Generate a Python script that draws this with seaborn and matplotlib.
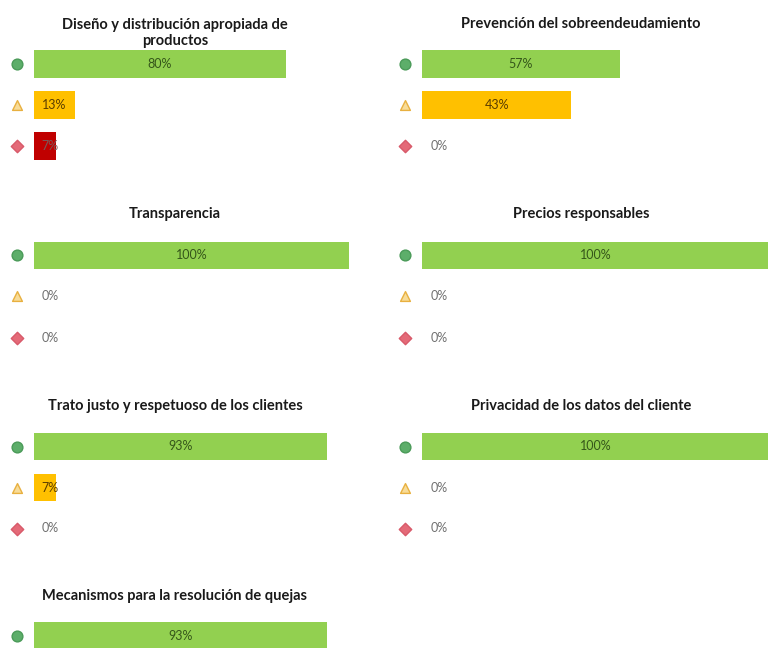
import matplotlib.pyplot as plt
import matplotlib.transforms as mtransforms
import pandas as pd
import seaborn as sns

# Data
levels = ['bien', 'medio', 'mal']
titles = ['Diseño y distribución apropiada de\nproductos',
          'Prevención del sobreendeudamiento',
          'Transparencia',
          'Precios responsables',
          'Trato justo y respetuoso de los clientes',
          'Privacidad de los datos del cliente',
          'Mecanismos para la resolución de quejas']
diseno = [80, 13, 7]
prevencion = [57, 43, 0]
transparencia = [100, 0, 0]
precios = [100, 0, 0]
trato = [93, 7, 0]
privacidad = [100, 0, 0]
mecanismos = [93]   # only the first bar is visible in the picture

series = [diseno, prevencion, transparencia, precios, trato, privacidad, mecanismos]

bar_colors = {'bien': '#92D050', 'medio': '#FFC000', 'mal': '#C00000'}
text_colors = {'bien': '#35561a', 'medio': '#5a3d00', 'mal': '#7a5a5a'}

W, H = 768, 648
fig = plt.figure(figsize=(W / 100, H / 100), dpi=100)
fig.patch.set_facecolor('white')
plt.rcParams['font.family'] = ['Lato', 'DejaVu Sans']


def px_axes(left, top, width, height):
  return fig.add_axes([left / W, 1 - (top + height) / H, width / W, height / H])


# panel geometry (pixels): bar start, 100% width, icon x, title centre
cols = [dict(x0=34, w=315, icon=17, tx=175), dict(x0=422, w=347, icon=405, tx=581)]
rows = [dict(top=43.5, ty=24), dict(top=235, ty=214), dict(top=426, ty=406), dict(top=615.5, ty=596)]

for i, (title, vals) in enumerate(zip(titles, series)):
  c = cols[i % 2]
  r = rows[i // 2]
  ax = px_axes(c['x0'], r['top'], c['w'], 123)
  df = pd.DataFrame({'nivel': levels[:len(vals)], 'valor': vals})
  sns.barplot(data=df, x='valor', y='nivel', hue='nivel', order=levels,
              hue_order=levels, palette=bar_colors, orient='h', width=0.68,
              legend=False, saturation=1, ax=ax)
  ax.set_xlim(0, 100)
  ax.set_ylim(2.5, -0.5)
  ax.axis('off')

  # value labels
  for j, v in enumerate(vals):
    lvl = levels[j]
    col = text_colors[lvl] if v > 0 else '#707070'
    ax.text(max(v / 2, 5), j, f'{v}%', ha='center', va='center',
            fontsize=9, color=col, clip_on=False)

  # status icons left of the bars
  trans = mtransforms.blended_transform_factory(fig.transFigure, ax.transData)
  ix = c['icon'] / W
  ax.scatter([ix], [0], s=60, marker='o', color='#5DAE6A', edgecolor='#4a9a58',
             transform=trans, clip_on=False, zorder=5)
  ax.scatter([ix], [1], s=50, marker='^', color='#F8DC98', edgecolor='#E8B040',
             linewidth=1, transform=trans, clip_on=False, zorder=5)
  ax.scatter([ix], [2], s=40, marker='D', color='#E46A78', edgecolor='#d85a6a',
             transform=trans, clip_on=False, zorder=5)

  nlines = title.count('\n') + 1
  ty = r['ty'] + 9 * (nlines - 1)
  fig.text(c['tx'] / W, 1 - ty / H, title, ha='center', va='center',
           fontsize=10.5, fontweight='bold', color='#1a1a1a', linespacing=1.15)

fig.savefig('out.png', dpi=100)
